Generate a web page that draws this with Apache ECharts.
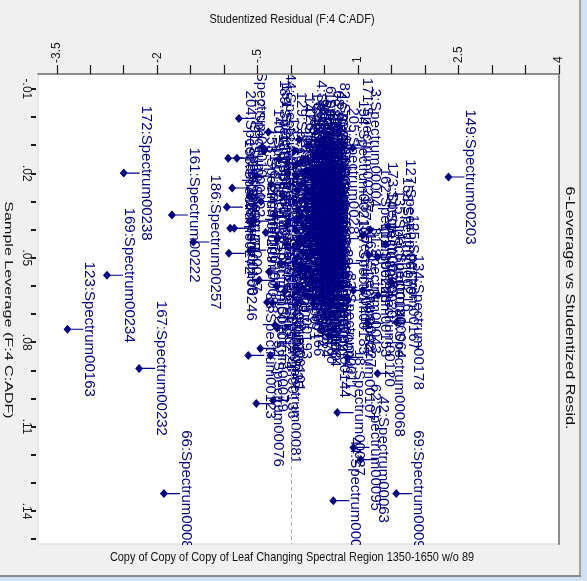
<!DOCTYPE html>
<html>
<head>
<meta charset="utf-8">
<script src="https://cdn.jsdelivr.net/npm/echarts@6/dist/echarts.min.js"></script>
<style>
  html, body { margin: 0; padding: 0; background: #f0f0f0; }
  #chart { width: 587px; height: 581px; }
</style>
</head>
<body>
<div id="chart"></div>
<script>
// Axis ticks and labelled ticks
const residualTickValues = [-3.5, -3, -2.5, -2, -1.5, -1, -0.5, 0, 0.5, 1, 1.5, 2, 2.5, 3, 3.5, 4];
const residualTicks = [-3.5, -2, -0.5, 1, 2.5, 4];
const leverageTickValues = [-0.01, 0, 0.01, 0.02, 0.03, 0.04, 0.05, 0.06, 0.07, 0.08, 0.09, 0.10, 0.11, 0.12, 0.13, 0.14, 0.15];
const leverageTicks = [-0.01, 0.02, 0.05, 0.08, 0.11, 0.14];

// Sample names (index:spectrum)
const sampleNames = [
  "149:Spectrum00203", "172:Spectrum00238", "169:Spectrum00234", "123:Spectrum00163", "161:Spectrum00222",
  "186:Spectrum00257", "167:Spectrum00232", "66:Spectrum00089", "69:Spectrum00092", "134:Spectrum00178",
  "46:Spectrum00068", "42:Spectrum00063", "44:Spectrum00065", "62:Spectrum00095", "18:Spectrum00027",
  "88:Spectrum00123", "54:Spectrum00079", "56:Spectrum00081", "52:Spectrum00076", "98:Spectrum00136",
  "17:Spectrum00025", "71:Spectrum00101", "163:Spectrum00224", "58:Spectrum00084", "29:Spectrum00041",
  "105:Spectrum00144", "83:Spectrum00117", "74:Spectrum00107", "80:Spectrum00120", "137:Spectrum00185",
  "31:Spectrum00043", "112:Spectrum00153", "3:Spectrum00004", "162:Spectrum00223", "135:Spectrum00180",
  "127:Spectrum00170", "141:Spectrum00190", "147:Spectrum00199", "24:Spectrum00033", "7:Spectrum00010",
  "204:Spectrum00280", "2:Spectrum00002", "91:Spectrum00127", "198:Spectrum00272", "116:Spectrum00158",
  "12:Spectrum00017", "178:Spectrum00246", "144:Spectrum00195", "189:Spectrum00261", "158:Spectrum00216",
  "125:Spectrum00167", "43:Spectrum00064", "14:Spectrum00020", "205:Spectrum00281", "96:Spectrum00133",
  // central group
  "1:Spectrum00001", "4:Spectrum00005", "5:Spectrum00007", "6:Spectrum00008", "8:Spectrum00011",
  "9:Spectrum00013", "10:Spectrum00014", "11:Spectrum00015", "13:Spectrum00018", "15:Spectrum00021",
  "16:Spectrum00022", "19:Spectrum00028", "20:Spectrum00029", "21:Spectrum00030", "22:Spectrum00031",
  "23:Spectrum00032", "25:Spectrum00035", "26:Spectrum00037", "27:Spectrum00038", "30:Spectrum00042",
  "32:Spectrum00045", "33:Spectrum00046", "34:Spectrum00047", "35:Spectrum00049", "36:Spectrum00050",
  "39:Spectrum00055", "40:Spectrum00056", "41:Spectrum00058", "45:Spectrum00066", "47:Spectrum00069",
  "48:Spectrum00070", "49:Spectrum00071", "50:Spectrum00072", "51:Spectrum00074", "53:Spectrum00077",
  "55:Spectrum00080", "61:Spectrum00088", "64:Spectrum00093", "65:Spectrum00094", "67:Spectrum00097",
  "68:Spectrum00099", "70:Spectrum00100", "75:Spectrum00108", "76:Spectrum00109", "77:Spectrum00111",
  "78:Spectrum00112", "79:Spectrum00114", "81:Spectrum00116", "82:Spectrum00118", "84:Spectrum00119",
  "85:Spectrum00121", "86:Spectrum00122", "87:Spectrum00124", "89:Spectrum00126", "90:Spectrum00128",
  "93:Spectrum00131", "99:Spectrum00138", "100:Spectrum00139", "101:Spectrum00140", "102:Spectrum00141",
  "104:Spectrum00143", "106:Spectrum00146", "107:Spectrum00147", "108:Spectrum00148", "110:Spectrum00150",
  "111:Spectrum00152", "113:Spectrum00154", "114:Spectrum00155", "115:Spectrum00156", "117:Spectrum00159",
  "118:Spectrum00160", "119:Spectrum00161", "122:Spectrum00165", "124:Spectrum00166",
  // slightly negative residuals
  "126:Spectrum00168", "128:Spectrum00171", "129:Spectrum00172", "130:Spectrum00173", "131:Spectrum00174",
  "132:Spectrum00175", "133:Spectrum00176", "136:Spectrum00181", "138:Spectrum00186", "139:Spectrum00187",
  "140:Spectrum00188", "142:Spectrum00191", "143:Spectrum00193", "145:Spectrum00196", "146:Spectrum00197",
  "148:Spectrum00201", "150:Spectrum00204", "151:Spectrum00206", "152:Spectrum00207", "153:Spectrum00209",
  // moderate positive residuals
  "154:Spectrum00210", "157:Spectrum00214", "165:Spectrum00227", "171:Spectrum00237", "173:Spectrum00239"
];

// Studentized residual (F:4 C:ADF)
const studentizedResidual = [
  2.35, -2.50, -2.75, -3.34, -1.78,
  -1.46, -2.27, -1.90, 1.57, 1.57,
  1.29, 1.04, 0.63, 0.93, 0.69,
  -0.64, -0.46, -0.27, -0.52, -0.31,
  -0.24, -0.21, -0.36, 0.33, 0.51,
  0.47, 0.56, 0.84, 1.14, 0.74,
  0.93, 1.07, 0.92, 1.07, 1.29,
  1.45, -0.06, -0.06, -0.61, -0.78,
  -0.94, -0.81, -0.88, -0.96, -0.91,
  -0.85, -0.93, -0.34, -0.43, 1.41,
  1.50, 1.30, 1.16, 0.59, 0.33,
  // central group
  0.05, 0.12, 0.18, 0.25, 0.31,
  0.08, 0.15, 0.22, 0.29, 0.36,
  0.42, 0.48, 0.03, 0.11, 0.19,
  0.26, 0.34, 0.40, 0.46, 0.06,
  0.14, 0.21, 0.28, 0.35, 0.43,
  0.09, 0.17, 0.24, 0.31, 0.38,
  0.45, 0.02, 0.13, 0.20, 0.27,
  0.33, 0.07, 0.16, 0.23, 0.30,
  0.37, 0.44, 0.10, 0.04, 0.32,
  0.39, 0.26, 0.19, 0.47, 0.12,
  0.35, 0.22, 0.41, 0.28, 0.15,
  0.08, 0.01, 0.18, 0.25, 0.42,
  0.33, 0.14, 0.38, 0.24, 0.05,
  0.30, 0.45, 0.20, 0.10, 0.36,
  0.27, 0.17, 0.43, 0.08,
  // slightly negative residuals
  -0.05, -0.12, -0.18, -0.25, -0.08,
  -0.15, -0.30, -0.38, -0.45, -0.22,
  -0.52, -0.33, -0.10, -0.03, -0.58,
  -0.48, -0.20, -0.40, -0.28, -0.62,
  // moderate positive residuals
  0.75, 0.78, 0.85, 0.80, 1.18
];

// Sample leverage (F:4 C:ADF)
const sampleLeverage = [
  0.0213, 0.0199, 0.0562, 0.0754, 0.0348,
  0.0444, 0.0893, 0.1338, 0.1338, 0.0729,
  0.0911, 0.1217, 0.1363, 0.1174, 0.1050,
  0.0847, 0.0822, 0.1007, 0.1018, 0.0847,
  0.0740, 0.0750, 0.0658, 0.0662, 0.0694,
  0.0758, 0.0776, 0.0854, 0.0733, 0.0605,
  0.0616, 0.0616, 0.0110, 0.0420, 0.0498,
  0.0390, 0.0385, 0.0163, 0.0473, 0.0005,
  0.0146, 0.0146, 0.0252, 0.0320, 0.0395,
  0.0395, 0.0484, 0.0053, 0.0107, 0.0452,
  0.0587, 0.0633, 0.0490, 0.0206, 0.0224,
  // central group
  0.012, 0.008, 0.015, 0.010, 0.018,
  0.021, 0.024, 0.019, 0.027, 0.022,
  0.014, 0.026, 0.030, 0.033, 0.029,
  0.036, 0.031, 0.038, 0.033, 0.040,
  0.043, 0.039, 0.046, 0.042, 0.047,
  0.050, 0.053, 0.049, 0.056, 0.052,
  0.058, 0.057, 0.060, 0.063, 0.059,
  0.064, 0.017, 0.035, 0.026, 0.040,
  0.013, 0.020, 0.026, 0.046, 0.048,
  0.030, 0.054, 0.044, 0.010, 0.055,
  0.058, 0.032, 0.061, 0.021, 0.016,
  0.036, 0.023, 0.048, 0.042, 0.027,
  0.025, 0.030, 0.044, 0.015, 0.052,
  0.033, 0.037, 0.057, 0.045, 0.034,
  0.064, 0.020, 0.052, 0.061,
  // slightly negative residuals
  0.020, 0.028, 0.015, 0.035, 0.045,
  0.052, 0.024, 0.041, 0.030, 0.060,
  0.021, 0.055, 0.062, 0.037, 0.037,
  0.058, 0.043, 0.012, 0.066, 0.028,
  // moderate positive residuals
  0.018, 0.052, 0.065, 0.010, 0.040
];

const points = sampleNames.map((name, i) => [studentizedResidual[i], sampleLeverage[i], name]);

const trimZero = v => String(+v.toFixed(3)).replace(/^(-?)0\./, '$1.');
const labelFont = '"Liberation Sans", Arial, sans-serif';
const bg = '#f0f0f0';
const navy = '#000080';

// Diamond marker with its leader stem to the right
const markerPath = 'path://M0,4.5L4,0L8,4.5L4,9ZM4,3.9L20,3.9L20,5.1L4,5.1Z';

const chart = echarts.init(document.getElementById('chart'), null, { renderer: 'canvas' });

chart.setOption({
  animation: false,
  backgroundColor: bg,
  grid: {
    left: 38, top: 74, right: 28, bottom: 37,
    show: true, backgroundColor: '#ffffff', borderColor: '#d6d6d6', borderWidth: 1
  },
  xAxis: [{
    type: 'value', position: 'top', min: -3.78, max: 4, z: 60,
    axisLine: { show: true, onZero: false, lineStyle: { color: '#8c8c8c', width: 2 } },
    axisTick: { show: true, length: 9, customValues: residualTickValues, lineStyle: { color: '#1a1a1a', width: 1.2 } },
    axisLabel: {
      rotate: -90, margin: 11, customValues: residualTicks, formatter: trimZero,
      fontSize: 12, fontFamily: labelFont, color: '#1a1a1a'
    },
    splitLine: { show: false }
  }],
  yAxis: [{
    type: 'value', position: 'left', inverse: true, min: -0.0153, max: 0.1517, offset: 2, z: 60,
    axisLine: { show: false, onZero: false },
    axisTick: { show: true, length: 5, customValues: leverageTickValues, lineStyle: { color: '#1a1a1a', width: 2 } },
    axisLabel: {
      rotate: -90, margin: 4, customValues: leverageTicks, formatter: trimZero,
      fontSize: 12, fontFamily: labelFont, color: '#1a1a1a'
    },
    splitLine: { show: false }
  }, {
    type: 'value', position: 'right', inverse: true, min: -0.0153, max: 0.1517, z: 60,
    axisLine: { show: true, onZero: false, lineStyle: { color: '#8c8c8c', width: 2 } },
    axisTick: { show: false }, axisLabel: { show: false }, splitLine: { show: false }
  }],
  series: [{
    type: 'scatter',
    xAxisIndex: 0, yAxisIndex: 0,
    data: points,
    symbol: markerPath,
    symbolSize: [20, 9],
    symbolOffset: [6, 0],
    itemStyle: { color: navy, opacity: 1 },
    label: {
      show: true,
      formatter: p => p.data[2],
      position: [26, 4.5],
      align: 'center', verticalAlign: 'middle',
      rotate: -90,
      color: navy, fontSize: 15, fontFamily: labelFont
    },
    emphasis: { disabled: true },
    markLine: {
      silent: true, symbol: 'none', animation: false,
      label: { show: false },
      lineStyle: { type: [4, 3], color: '#a8a8a8', width: 1 },
      data: [{ xAxis: 0 }]
    }
  }],
  graphic: [
    // frame outside the plot area keeps labels inside it
    { type: 'rect', z: 50, silent: true, shape: { x: 0, y: 0, width: 587, height: 73 }, style: { fill: bg } },
    { type: 'rect', z: 50, silent: true, shape: { x: 0, y: 545, width: 587, height: 36 }, style: { fill: bg } },
    { type: 'rect', z: 50, silent: true, shape: { x: 0, y: 0, width: 37.5, height: 581 }, style: { fill: bg } },
    { type: 'rect', z: 50, silent: true, shape: { x: 560, y: 0, width: 27, height: 581 }, style: { fill: bg } },
    // window edges
    { type: 'rect', z: 51, silent: true, shape: { x: 579, y: 0, width: 2, height: 581 }, style: { fill: '#a3a3a3' } },
    { type: 'rect', z: 51, silent: true, shape: { x: 581, y: 0, width: 6, height: 581 }, style: { fill: '#cfe2f4' } },
    { type: 'rect', z: 52, silent: true, shape: { x: 0, y: 575, width: 581, height: 2 }, style: { fill: '#8a8a8a' } },
    { type: 'rect', z: 52, silent: true, shape: { x: 0, y: 577, width: 581, height: 4 }, style: { fill: '#cfe2f4' } },
    // titles
    {
      type: 'text', z: 70, silent: true, x: 292, y: 19, scaleX: 0.84,
      style: { text: 'Studentized Residual (F:4 C:ADF)', font: '13px ' + labelFont, fill: '#111',
               align: 'center', verticalAlign: 'middle', textAlign: 'center', textVerticalAlign: 'middle' }
    },
    {
      type: 'text', z: 70, silent: true, x: 292, y: 557, scaleX: 0.84,
      style: { text: 'Copy of Copy of Copy of Leaf Changing Spectral Region 1350-1650 w/o 89', font: '13px ' + labelFont, fill: '#111',
               align: 'center', verticalAlign: 'middle', textAlign: 'center', textVerticalAlign: 'middle' }
    },
    {
      type: 'text', z: 70, silent: true, x: 8, y: 310, rotation: -Math.PI / 2, scaleX: 1.4,
      style: { text: 'Sample Leverage (F:4 C:ADF)', font: '11.5px ' + labelFont, fill: '#111',
               align: 'center', verticalAlign: 'middle', textAlign: 'center', textVerticalAlign: 'middle' }
    },
    {
      type: 'text', z: 70, silent: true, x: 569, y: 308, rotation: -Math.PI / 2, scaleX: 1.35,
      style: { text: '6-Leverage vs Studentized Resid.', font: '12px ' + labelFont, fill: '#111',
               align: 'center', verticalAlign: 'middle', textAlign: 'center', textVerticalAlign: 'middle' }
    }
  ]
});
</script>
</body>
</html>
